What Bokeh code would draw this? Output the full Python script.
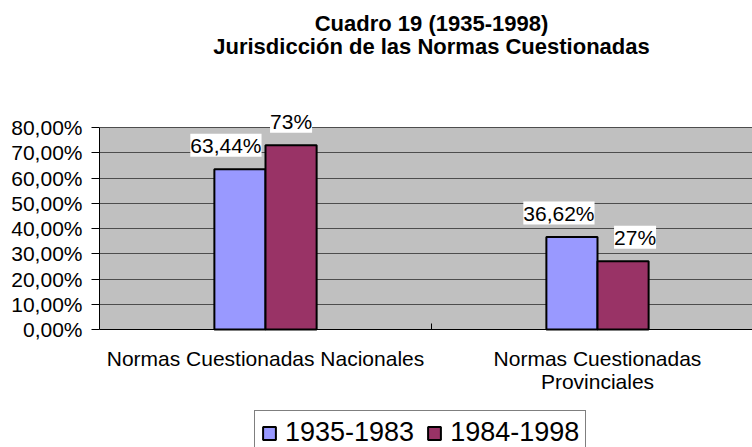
from bokeh.plotting import figure
from bokeh.models import (ColumnDataSource, Range1d, FixedTicker, LabelSet, Label,
                          Legend, LegendItem, BoxAnnotation, Span)
from bokeh.core.properties import value
from bokeh.embed import file_html
from bokeh.resources import INLINE

# ---- data ----
categories = ["Normas Cuestionadas Nacionales", "Normas Cuestionadas Provinciales"]
category_labels = ["Normas Cuestionadas Nacionales", "Normas Cuestionadas\nProvinciales"]
series_names = ["1935-1983", "1984-1998"]
values_1935_1983 = [0.6344, 0.3662]
values_1984_1998 = [0.73, 0.27]
labels_1935_1983 = ["63,44%", "36,62%"]
labels_1984_1998 = ["73%", "27%"]
y_ticks = [0.0, 0.1, 0.2, 0.3, 0.4, 0.5, 0.6, 0.7, 0.8]
y_tick_labels = ["0,00%", "10,00%", "20,00%", "30,00%", "40,00%",
                 "50,00%", "60,00%", "70,00%", "80,00%"]
title_lines = ["Cuadro 19 (1935-1998)", "Jurisdicción de las Normas Cuestionadas"]

# ---- layout / styles ----
FONT = "Liberation Sans"
colors = ["#9999FF", "#993366"]
bar_w = 0.154
label_dx_1935 = [-14, -13]
label_dx_1984 = [0, 12]
W, H = 752, 447
LEFT, BOTTOM_PX, AXIS_TOP_PX = 99, 329, 127   # frame left, y of 0 %, y of 80 % (page px)
PLOT_RIGHT_PX = 763                            # grey plot area continues past the canvas edge
y_max = y_ticks[-1]
px_per_unit = (BOTTOM_PX - AXIS_TOP_PX) / y_max
y_top = BOTTOM_PX / px_per_unit               # frame reaches canvas top
y_bottom = -(H - BOTTOM_PX) / px_per_unit      # ... and canvas bottom
x_end = len(categories) * (W - LEFT) / (PLOT_RIGHT_PX - LEFT)

centers = [i + 0.5 for i in range(len(categories))]
boundaries = list(range(1, len(categories)))

p = figure(width=W, height=H, output_backend="svg", toolbar_location=None,
           x_range=Range1d(0, x_end), y_range=Range1d(y_bottom, y_top),
           x_axis_location=None,
           min_border_left=LEFT, min_border_right=0, min_border_top=0,
           min_border_bottom=0)
p.background_fill_color = "white"
p.border_fill_color = "white"
p.outline_line_color = None

# grey plot area (0 .. 80 %)
p.add_layout(BoxAnnotation(bottom=0, top=y_max, fill_color="#C0C0C0", fill_alpha=1,
                           line_color=None, level="image"))

src1 = ColumnDataSource(dict(x=[c - bar_w / 2 for c in centers], top=values_1935_1983,
                             text=labels_1935_1983, dx=label_dx_1935))
src2 = ColumnDataSource(dict(x=[c + bar_w / 2 for c in centers], top=values_1984_1998,
                             text=labels_1984_1998, dx=label_dx_1984))

r1 = p.vbar(x="x", top="top", bottom=0, width=bar_w, source=src1,
            fill_color=colors[0], line_color="black", line_width=2)
r2 = p.vbar(x="x", top="top", bottom=0, width=bar_w, source=src2,
            fill_color=colors[1], line_color="black", line_width=2)

for s in (src1, src2):
    p.add_layout(LabelSet(x="x", y="top", text="text", source=s, x_offset="dx", y_offset=24,
                          text_align="center", text_baseline="middle",
                          text_font=value(FONT), text_font_size="21px", text_color="black",
                          background_fill_color="white"))

# grid
p.xgrid.visible = False
p.ygrid.ticker = FixedTicker(ticks=y_ticks)
p.ygrid.grid_line_color = "#4d4d4d"
p.ygrid.grid_line_width = 1

# y axis
p.yaxis.ticker = FixedTicker(ticks=y_ticks)
p.yaxis.bounds = (0, y_max)
p.yaxis.major_label_overrides = {t: l for t, l in zip(y_ticks, y_tick_labels)}
p.yaxis.major_label_text_font = FONT
p.yaxis.major_label_text_font_size = "21px"
p.yaxis.major_label_text_color = "black"
p.yaxis.major_tick_out = 8
p.yaxis.major_tick_in = 0
p.yaxis.minor_tick_line_color = None
p.yaxis.major_label_standoff = 9
p.yaxis.axis_line_color = "black"
p.yaxis.major_tick_line_color = "black"

# category axis: baseline, divider tick and (centred, possibly multi-line) labels
p.add_layout(Span(location=0, dimension="width", line_color="black", line_width=1))
p.segment(x0=boundaries, y0=[0] * len(boundaries), x1=boundaries,
          y1=[6 / px_per_unit] * len(boundaries), line_color="black", line_width=1)
cx, cy, ct, coff = [], [], [], []
for c, lab in zip(centers, category_labels):
    for j, line in enumerate(lab.split("\n")):
        cx.append(c); cy.append(0); ct.append(line); coff.append(-17 - 23 * j)
cat_src = ColumnDataSource(dict(x=cx, y=cy, text=ct, off=coff))
p.add_layout(LabelSet(x="x", y="y", text="text", source=cat_src, y_offset="off",
                      text_align="center", text_baseline="top",
                      text_font=value(FONT), text_font_size="21px", text_color="black"))

# titles (inside the extended frame, above the grey area), centred on the plot area
title_x = len(categories) / 2
for txt, ypx in zip(title_lines, (23, 46)):
    p.add_layout(Label(x=title_x, y=(BOTTOM_PX - ypx) / px_per_unit, text=txt,
                       text_align="center", text_baseline="middle",
                       text_font=FONT, text_font_size="22px", text_font_style="bold",
                       text_color="black"))

legend = Legend(items=[LegendItem(label=series_names[0], renderers=[r1]),
                       LegendItem(label=series_names[1], renderers=[r2])],
                orientation="horizontal", location=(254 - LEFT, -8))
legend.label_text_font = FONT
legend.label_text_font_size = "27px"
legend.label_text_color = "black"
legend.glyph_width = 16
legend.glyph_height = 16
legend.label_standoff = 8
legend.spacing = 12
legend.padding = 6
legend.margin = 0
legend.border_line_color = "black"
legend.border_line_width = 1
legend.background_fill_color = "white"
legend.background_fill_alpha = 1
p.add_layout(legend, "center")

open("out.html", "w").write(file_html(p, INLINE))
